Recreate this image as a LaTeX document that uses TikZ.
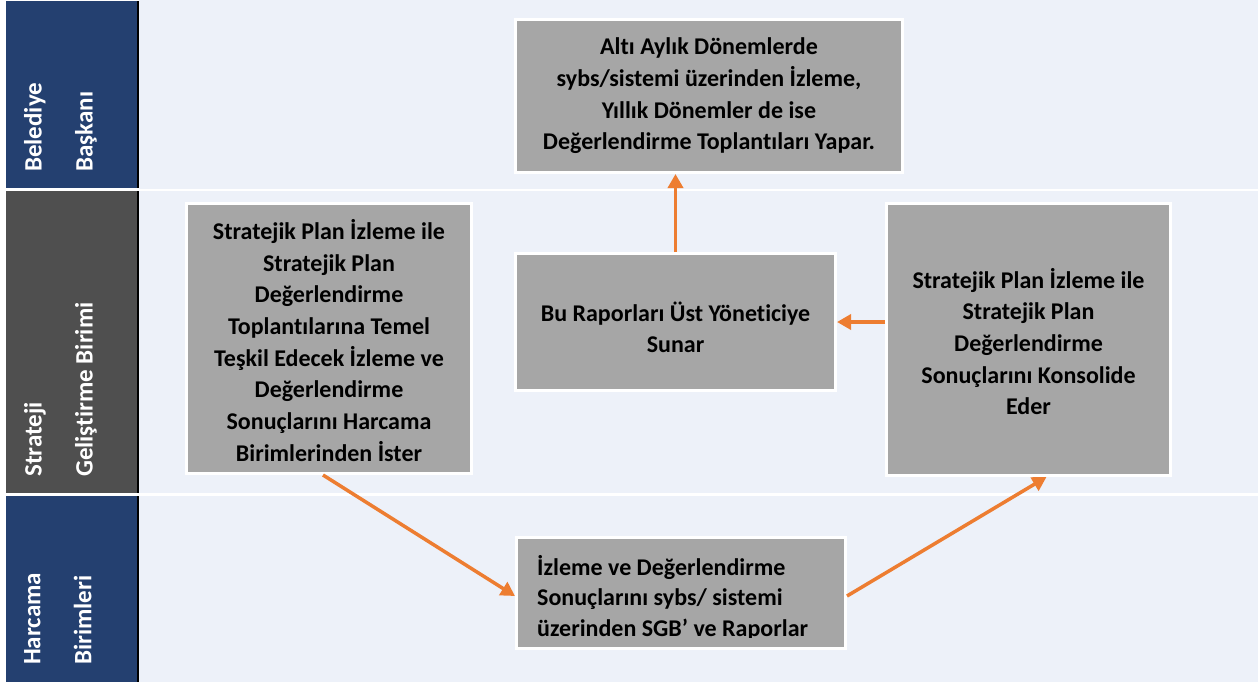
\documentclass[tikz,border=0pt]{standalone}
\usepackage{fontspec}
\setmainfont{Carlito}[Ligatures=NoCommon]
\usepackage{xcolor}
\usetikzlibrary{positioning}
\usetikzlibrary{arrows.meta}
\definecolor{laneblue}{HTML}{244070}
\definecolor{lanegrey}{HTML}{4F4F4F}
\definecolor{paleblue}{HTML}{EDF1F9}
\definecolor{boxgrey}{HTML}{A6A6A6}
\definecolor{flow}{HTML}{ED7D31}

\begin{document}
\begin{tikzpicture}[x=1pt,y=-1pt,
  box/.style={draw=white,line width=3pt,fill=boxgrey,inner sep=0pt,align=center,
    font=\fontsize{24}{31.7}\selectfont\bfseries},
  lane/.style={rotate=90,anchor=north west,text=white,align=left,inner sep=0pt,
    font=\fontsize{25}{51}\selectfont\bfseries},
  flowarrow/.style={draw=flow,line width=3.5pt,-{Triangle[length=14pt,width=15pt]}}]
  \useasboundingbox (0,0) rectangle (1258,682);
  \fill[white] (0,0) rectangle (1258,682);
  \fill[paleblue] (139,0) rectangle (1258,682);
  \fill[white] (139,188.5) rectangle (1258,191);
  \fill[white] (139,493) rectangle (1258,495.5);
  \fill[laneblue] (6,1) rectangle (137,188);
  \fill[lanegrey] (6,191) rectangle (137,493);
  \fill[laneblue] (6,496) rectangle (137,682);
  \draw[line width=2pt] (138,1) -- (138,188) (138,191) -- (138,493) (138,496) -- (138,682);

  \node[lane] (lbas) at (24,172) {Belediye\\Başkanı};
  \node[lane] (lsgb) at (24,477) {Strateji\\Geliştirme Birimi};
  \node[lane] (lhb) at (24,665) {Harcama\\Birimleri};

  \node[box,minimum width=387pt,minimum height=153pt] (plan) at (709,96)
    {Altı Aylık Dönemlerde\\sybs/sistemi üzerinden İzleme,\\Yıllık Dönemler de ise\\Değerlendirme Toplantıları Yapar.};
  \node[box,minimum width=285pt,minimum height=270pt] (req) at (329,338.5)
    {\rule{0pt}{24pt}Stratejik Plan İzleme ile\\Stratejik Plan\\Değerlendirme\\Toplantılarına Temel\\Teşkil Edecek İzleme ve\\Değerlendirme\\Sonuçlarını Harcama\\Birimlerinden İster};
  \node[box,minimum width=320pt,minimum height=137pt] (mid) at (675.5,322)
    {\rule{0pt}{30pt}Bu Raporları Üst Yöneticiye\\Sunar};
  \node[box,minimum width=284pt,minimum height=272pt] (cons) at (1028.5,339.5)
    {\rule{0pt}{24pt}Stratejik Plan İzleme ile\\Stratejik Plan\\Değerlendirme\\Sonuçlarını Konsolide\\Eder};
  \node[box,minimum width=329pt,minimum height=111pt] (rep) at (681,593) {};
  \begin{scope}
    \clip (rep.north west) rectangle (rep.east |- 0,637);
    \node[anchor=base west,inner sep=0pt,align=left,font=\fontsize{24}{30.5}\selectfont\bfseries] (reptext) at (537,636)
      {İzleme ve Değerlendirme\\Sonuçlarını sybs/ sistemi\\üzerinden SGB’ ve Raporlar};
  \end{scope}

  \draw[flowarrow] (mid.north) -- (mid.north |- plan.south);
  \draw[flowarrow] (cons.west |- mid.east) -- (mid.east);
  \draw[flowarrow] ([xshift=-6pt]req.south) -- ([yshift=-3pt]rep.west);
  \draw[flowarrow] ([yshift=-3pt]rep.east) -- ([xshift=18pt]cons.south);
\end{tikzpicture}
\end{document}
